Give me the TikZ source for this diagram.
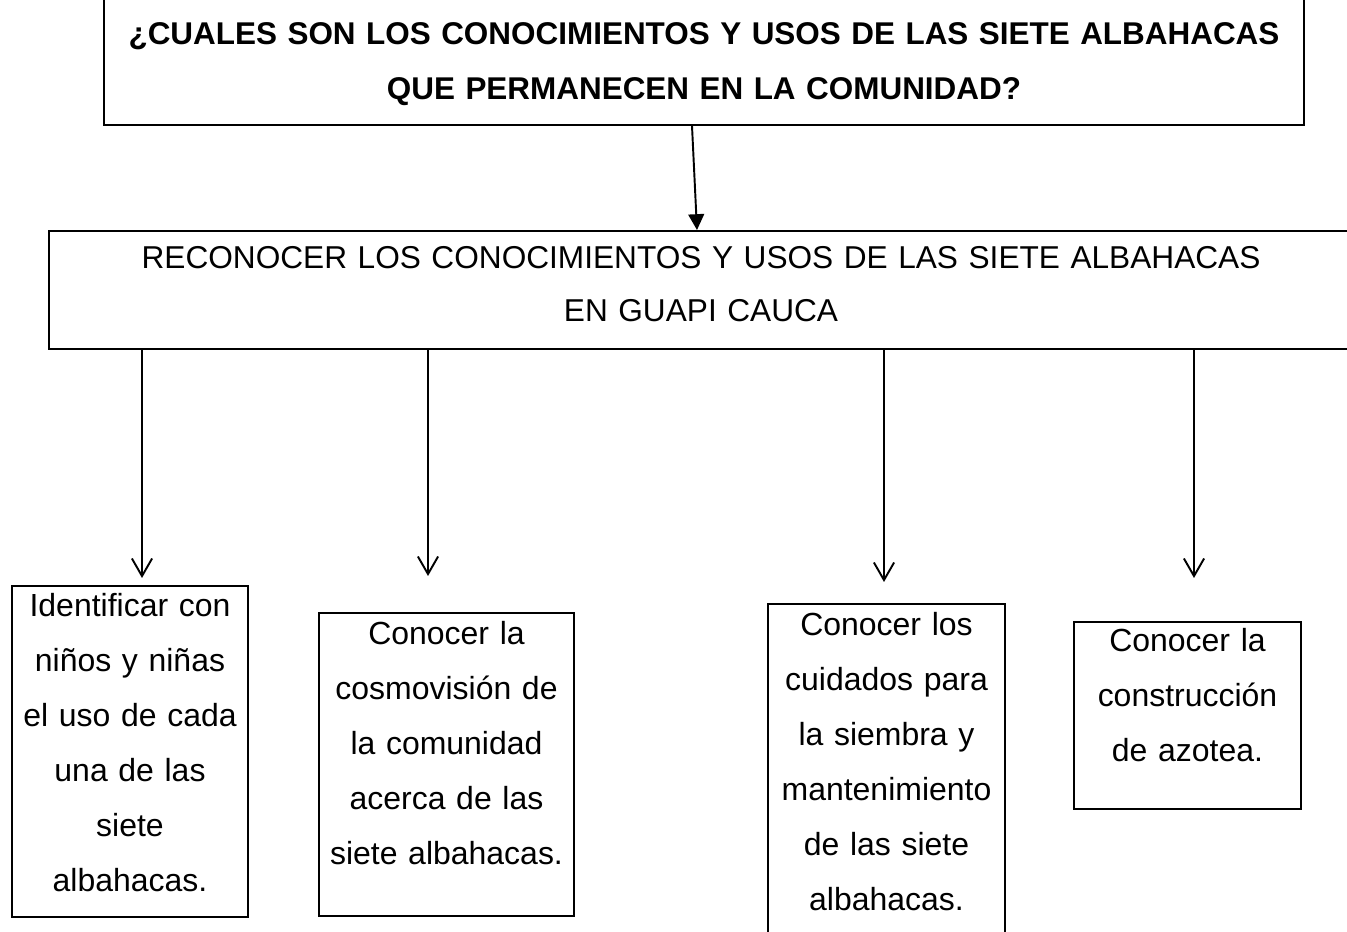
\documentclass[tikz,border=0pt]{standalone}
\usepackage{fontspec}
\setmainfont{Liberation Sans}
\usetikzlibrary{arrows.meta}

\begin{document}
\begin{tikzpicture}[x=0.02cm, y=-0.02cm,
        caja/.style={
          draw, line width=1.1pt, align=center, inner sep=0pt, anchor=north,
          font=\fontsize{18.2pt}{1.1cm}\selectfont
        },
        flecha/.style={
          line width=1.1pt, -{Straight Barb[length=10pt, width=11.5pt, line width=1.1pt]}
        }
      ]
      \useasboundingbox (0,0) rectangle (1347,932);
      \clip (0,0) rectangle (1347,932);
      \node [caja, text width=24cm, text height=1.0cm, text depth=1.6cm,
        font=\fontsize{17.9pt}{1.1cm}\selectfont\bfseries] (q) at (704,-6)
        {¿CUALES SON LOS CONOCIMIENTOS Y USOS DE LAS SIETE ALBAHACAS\\QUE PERMANECEN EN LA COMUNIDAD?};
      \node [caja, text width=26.08cm, text height=0.76cm, text depth=1.6cm,
        font=\fontsize{18pt}{1.06cm}\selectfont] (r) at (701,230)
        {RECONOCER LOS CONOCIMIENTOS Y USOS DE LAS SIETE ALBAHACAS\\EN GUAPI CAUCA};
      \node [caja, text width=4.72cm, text height=0.62cm, text depth=6.0cm] (b1) at (130,585)
        {Identificar con\\niños y niñas\\el uso de cada\\una de las\\siete\\albahacas.};
      \node [caja, text width=5.1cm, text height=0.64cm, text depth=5.42cm] (b2) at (446.5,612)
        {Conocer la\\cosmovisión de\\la comunidad\\acerca de las\\siete albahacas.};
      \node [caja, text width=4.74cm, text height=0.64cm, text depth=6.4cm] (b3) at (886.5,603)
        {Conocer los\\cuidados para\\la siembra y\\mantenimiento\\de las siete\\albahacas.};
      \node [caja, text width=4.54cm, text height=0.6cm, text depth=3.14cm] (b4) at (1187.5,621)
        {Conocer la\\construcción\\de azotea.};
      \draw [line width=1.1pt, -{Triangle[length=9pt, width=9pt]}] ([xshift=-0.24cm]q.south) -- ([xshift=-0.08cm]r.north);
      \coordinate (p1) at (142,578);
      \coordinate (p2) at (428,576);
      \coordinate (p3) at (884,582);
      \coordinate (p4) at (1194,578);
      \draw [flecha] (r.south -| p1) -- (p1);
      \draw [flecha] (r.south -| p2) -- (p2);
      \draw [flecha] (r.south -| p3) -- (p3);
      \draw [flecha] (r.south -| p4) -- (p4);
    \end{tikzpicture}
\end{document}
